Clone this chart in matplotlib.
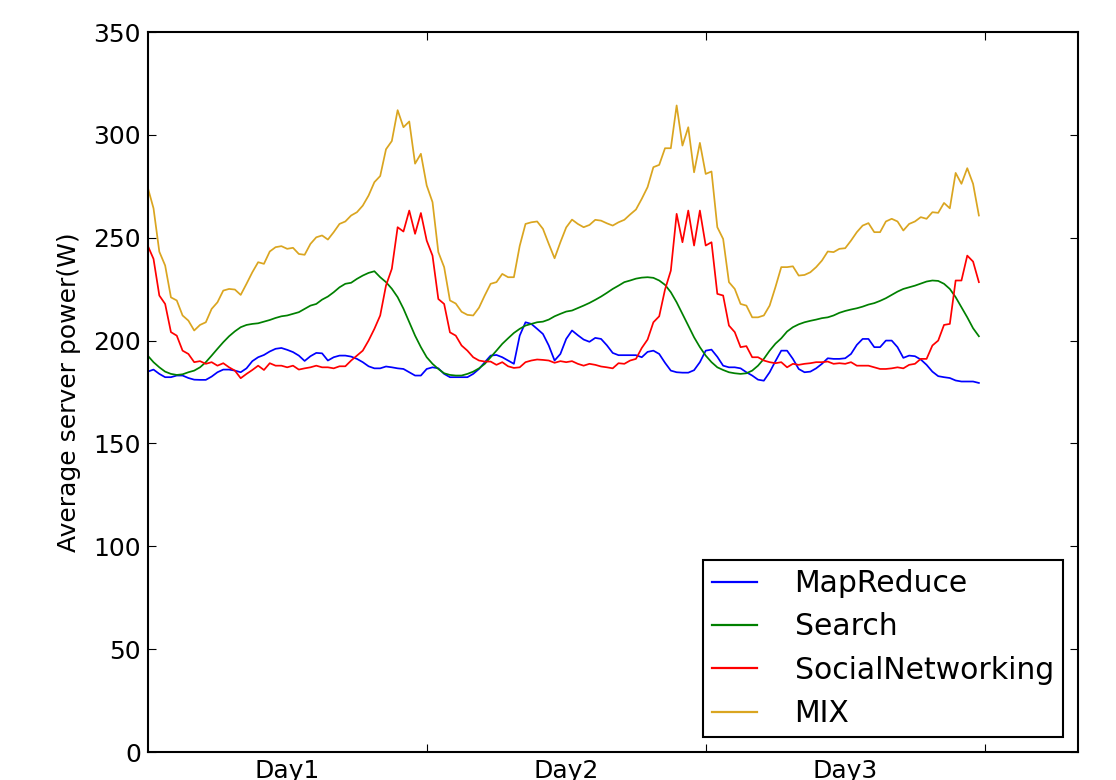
import matplotlib
matplotlib.use('Agg')
import matplotlib.pyplot as plt
import numpy as np

# half-hour samples over three days
step_h = 0.5

mapreduce = [184.9, 185.9, 183.8, 182.2, 182.2, 183, 183, 181.8, 181, 180.9, 180.9, 182.5, 184.6, 185.9, 185.9, 185.4, 184.6, 186.5, 190, 191.9, 193, 194.7, 196, 196.4, 195.5, 194.4, 192.7, 190.1, 192.4, 194, 193.8, 190.3, 191.9, 192.7, 192.7, 192.2, 191.1,
             189.5, 187.5, 186.5, 186.5, 187.4, 187, 186.5, 186.2, 184.6, 183, 183, 186.2, 187, 186.5, 183.8, 182.2, 182.2, 182.2, 182.2, 183.8, 186.2, 189.5, 192.7, 193, 191.9, 190.3, 188.7, 202.4, 208.9, 208.1, 205.7, 203.2, 197.6, 190.3, 193.5, 200.8,
             204.9, 202.6, 200.5, 199.4, 201.3, 200.8, 197.7, 194, 192.9, 192.9, 192.9, 192.9, 191.9, 194.5, 195.1, 193.5, 189.2, 185.4, 184.6, 184.4, 184.4, 185.6, 189.5, 195.1, 195.6, 192.1, 187.8, 187, 187, 186.5, 184.6, 183, 181, 180.5, 184.6, 190,
             195.1, 195.1, 191.1, 186.2, 184.6, 184.9, 186.5, 188.7, 191.4, 191.1, 191.1, 191.4, 193.5, 197.9, 200.8, 200.8, 196.8, 196.8, 200, 200, 196.8, 191.6, 192.7, 192.4, 190.8, 188.2, 184.9, 182.7, 182.2, 181.8, 180.6, 180.1, 180.1, 180.1, 179.4]

search = [192.7, 189.5, 187, 184.9, 183.8, 183.3, 183.6, 184.6, 185.4, 187, 189.5, 192.7, 196, 199.2, 202.1, 204.5, 206.5, 207.6, 208.1, 208.4, 209.2, 210, 211, 211.8, 212.2, 213, 213.8, 215.4, 217, 217.8, 219.9, 221.4, 223.5, 225.9, 227.6, 228.1, 230,
          231.6, 232.9, 233.7, 230.8, 228.4, 225.2, 221.1, 215.5, 208.9, 202.4, 196.8, 191.9, 188.7, 186.2, 184.1, 183.3, 183, 183, 183.8, 184.9, 186.5, 188.7, 191.9, 195.1, 198.4, 201.1, 203.7, 205.7, 207.3, 208.1, 208.9, 209.2, 210.2, 211.8, 213, 214.1,
          214.6, 215.8, 217, 218.3, 219.8, 221.4, 223.2, 225.1, 226.7, 228.4, 229.2, 230.1, 230.6, 230.8, 230.5, 229.2, 227.1, 223.5, 218.6, 213, 207.3, 201.6, 196.8, 192.7, 189.5, 187, 185.7, 184.6, 184.1, 183.8, 184.1, 185.4, 187.8, 191.1, 195.1, 198.5,
          201.1, 204.4, 206.5, 207.9, 208.9, 209.6, 210.2, 210.9, 211.3, 212.2, 213.5, 214.4, 215.1, 215.7, 216.5, 217.5, 218.2, 219.3, 220.6, 222.2, 223.8, 225.1, 225.9, 226.7, 227.7, 228.7, 229.2, 229, 227.6, 225.1, 221.1, 216.2, 211.3, 206, 202.1]

social = [246.2, 239.7, 221.9, 217.8, 204.1, 202.4, 195.1, 193.5, 189.5, 190, 188.7, 189.5, 187.8, 189, 187, 185.4, 181.7, 183.8, 185.7, 187.8, 185.7, 189, 187.8, 187.8, 187, 187.8, 185.9, 186.5, 187, 187.8, 187, 187, 186.5, 187.5, 187.5, 190.3, 192.7,
          195.1, 200, 205.7, 212.2, 226.8, 234.9, 255.1, 253, 263.2, 251.9, 262, 248.6, 241.3, 220.2, 217.8, 204, 202.4, 197.6, 195.1, 191.9, 190.3, 189.8, 189.8, 188.2, 189.5, 187.5, 186.7, 187, 189.5, 190.3, 190.8, 190.6, 190.3, 189.2, 190, 189.5,
          190, 188.7, 187.8, 188.7, 188.2, 187.4, 187, 186.5, 189, 188.7, 190.3, 191.1, 196.4, 200.5, 208.9, 211.8, 224.8, 234, 261.6, 247.8, 263.2, 246.2, 263.2, 246.2, 247.8, 222.7, 221.9, 207.3, 204.1, 196.8, 197.3, 191.9, 191.9, 190.3, 189.5, 189,
          189.5, 187, 188.7, 188.2, 188.7, 189, 189.5, 189.5, 189.8, 188.7, 189, 188.7, 189.5, 187.8, 187.8, 187.8, 187, 186.2, 186.2, 186.5, 187, 186.5, 188.2, 188.7, 191.1, 191.1, 197.6, 200, 207.6, 208.1, 229.2, 229.2, 241.3, 238.4, 228.4]

mix = [274.5, 264.3, 243.2, 236.5, 221, 219.5, 212.2, 209.7, 204.9, 207.6, 208.9, 215.4, 218.6, 224.3, 225.1, 224.8, 222.2, 227.6, 233.2, 238.1, 237.3, 243.3, 245.4, 245.9, 244.6, 245.1, 242.1, 241.7, 247, 250.2, 251.1, 249.1, 252.7, 256.7, 257.9, 260.8, 262.4,
       265.6, 270.5, 277, 280, 293, 297, 312, 303.7, 306.5, 286, 290.8, 275.4, 267.3, 243, 235.7, 219.5, 218, 214, 212.5, 212.2, 216, 222, 227.6, 228.4, 232.4, 230.8, 230.8, 246, 256.7, 257.5, 257.9, 254.3, 247, 240, 247.8, 255,
       258.8, 256.7, 255.1, 256.2, 258.7, 258.3, 257, 255.9, 257.5, 258.7, 261.3, 263.7, 268.9, 274.6, 284.3, 285.4, 293.5, 293.5, 314.3, 294.8, 303.7, 281.8, 296.1, 281, 282.2, 255.1, 249.4, 228.4, 225.1, 217.8, 217, 211.3, 211.3, 212.2, 217, 226,
       235.7, 235.7, 236.1, 231.6, 231.9, 233.2, 235.7, 238.9, 243.3, 243, 244.6, 244.9, 248.6, 252.7, 255.9, 257.1, 252.7, 252.7, 257.9, 259.2, 257.9, 253.5, 256.7, 257.9, 260, 259.2, 262.4, 262.1, 266.9, 264.3, 281.5, 276.2, 283.8, 276.2, 260.8]

day_labels = ['Day1', 'Day2', 'Day3']

hours = np.arange(len(mix)) * step_h

fig = plt.figure(figsize=(11.16, 7.8), dpi=100)
ax = fig.add_axes([147.7/1116, 28/780, 930/1116, 720/780])

ax.plot(hours, mapreduce, color='b', linewidth=1.25, label='MapReduce')
ax.plot(hours, search, color='g', linewidth=1.25, label='Search')
ax.plot(hours, social, color='r', linewidth=1.25, label='SocialNetworking')
ax.plot(hours, mix, color='goldenrod', linewidth=1.25, label='MIX')

ax.set_xlim(0, 80)
ax.set_ylim(0, 350)
ax.set_yticks(np.arange(0, 351, 50))

# day boundaries as major ticks, day names centred in between
ax.set_xticks([24, 48, 72])
ax.set_xticklabels([])
ax.set_xticks([12, 36, 60], minor=True)
ax.set_xticklabels(day_labels, minor=True)

ax.tick_params(axis='both', which='major', direction='in', top=True, right=True,
               length=6, width=0.8, labelsize=18)
ax.tick_params(axis='x', which='minor', length=0, labelsize=18, pad=5)
ax.tick_params(axis='y', which='major', pad=5)
for sp in ax.spines.values():
    sp.set_linewidth(1.5)

ax.set_ylabel('Average server power(W)', fontsize=18, labelpad=9)

leg = ax.legend(loc='lower right', fontsize=21.5, fancybox=False, framealpha=1,
                handlelength=1.5, handletextpad=1.25, labelspacing=0.48,
                borderpad=0.3, borderaxespad=0.5)
leg.get_frame().set_edgecolor('black')
leg.get_frame().set_linewidth(1.5)
for h in leg.get_lines():
    h.set_linewidth(1.6)

plt.savefig('out.png', dpi=100)
